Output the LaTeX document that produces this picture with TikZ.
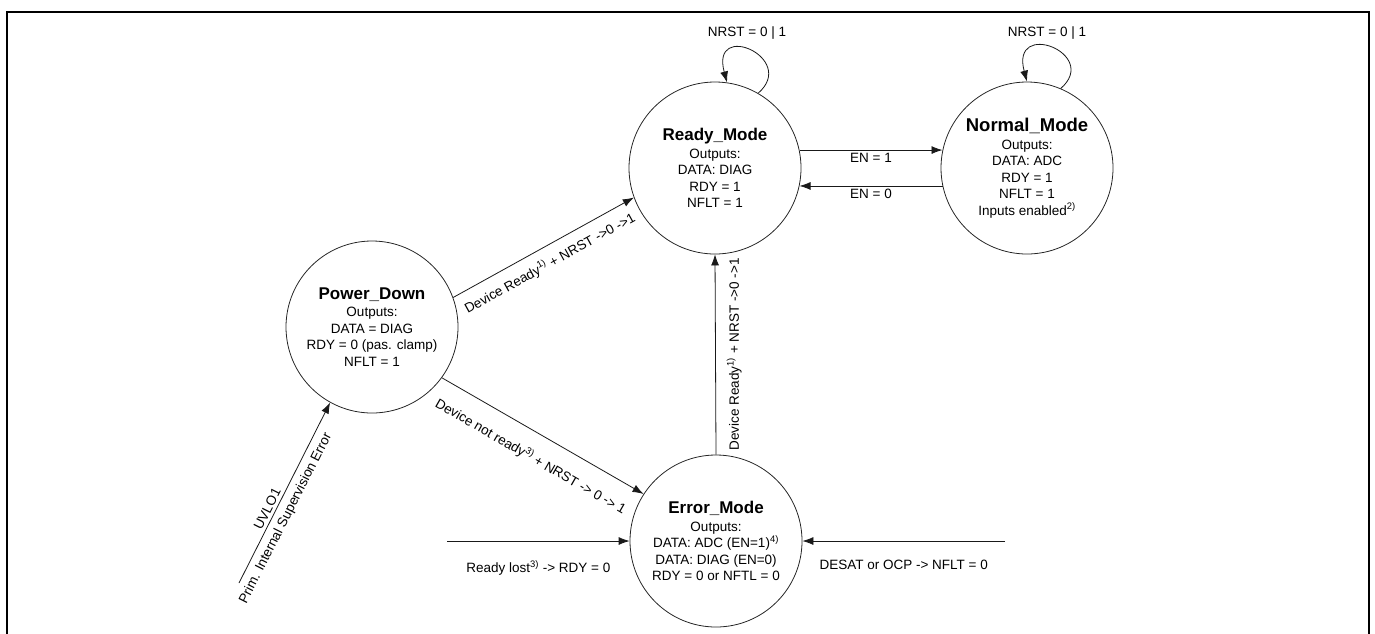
\documentclass[tikz,border=0pt]{standalone}
\usepackage{fontspec}
\setmainfont{Liberation Sans}
\usetikzlibrary{arrows.meta}
\newcommand\bodyfs{\fontsize{13.5}{16.5}\selectfont}
\newcommand\titlefs{\fontsize{17}{19}\selectfont\bfseries}
\newcommand\bigtitlefs{\fontsize{18.5}{20}\selectfont\bfseries}
\begin{document}
\begin{tikzpicture}[x=1pt,y=-1pt,
  state/.style={circle, draw=black!85, line width=0.8pt, minimum size=172pt, inner sep=0pt, align=center, font=\bodyfs},
  arr/.style={draw=black!90, line width=0.8pt, -{Latex[length=11pt,width=8pt]}},
  lbl/.style={font=\bodyfs, inner sep=1pt},
  frame/.style={line width=2.2pt}]
\useasboundingbox (0,0) rectangle (1375,633);
\draw[frame] (7,12) rectangle (1369,660);

\node[state] (ready) at (715,168) {{\titlefs Ready\_Mode}\\[1pt]Outputs:\\DATA: DIAG\\RDY = 1\\NFLT = 1};
\node[state] (normal) at (1027,168) {{\bigtitlefs Normal\_Mode}\\[1pt]Outputs:\\DATA: ADC\\RDY = 1\\NFLT = 1\\Inputs enabled\textsuperscript{2)}};
\node[state] (pd) at (372,327) {{\titlefs Power\_Down}\\[1pt]Outputs:\\DATA = DIAG\\RDY = 0 (pas. clamp)\\NFLT = 1};
\node[state] (err) at (716,541) {{\titlefs Error\_Mode}\\[1pt]Outputs:\\DATA: ADC (EN=1)\textsuperscript{4)}\\DATA: DIAG (EN=0)\\RDY = 0 or NFTL = 0};

% self loops
\draw[arr] (ready.60) .. controls +(40,-35) and +(-17,-63) .. (ready.82);
\node[lbl] (lready) at (747,33) {NRST = 0 | 1};
\draw[arr] (normal.67) .. controls +(40,-35) and +(-17,-63) .. (normal.90);
\node[lbl] (lnormal) at (1047,33) {NRST = 0 | 1};

% EN transitions
\draw[arr] (ready.12) -- (normal.168) node[lbl, midway, below=2pt] {EN = 1};
\draw[arr] (normal.192) -- (ready.-12) node[lbl, midway, below=2pt] {EN = 0};

% Power_Down -> Ready
\draw[arr] (pd.20) -- (ready.200) node[lbl, sloped, pos=0.49, below=8pt] {Device Ready\textsuperscript{1)} + NRST ->0 ->1};
% Power_Down -> Error
\draw[arr] (pd.-36) -- (err.147) node[lbl, sloped, pos=0.5, below=15pt] {Device not ready\textsuperscript{3)} + NRST -> 0 -> 1};
% Error -> Ready
\draw[arr] (err.north) -- (ready.south) coordinate[midway] (mer);
\node[lbl, rotate=90, anchor=north] (ler) at ([xshift=10pt]mer) {Device Ready\textsuperscript{1)} + NRST ->0 ->1};

% UVLO
\coordinate (u0) at (239,583);
\draw[arr] (u0) -- (pd.241)
  node[lbl, sloped, pos=0.39, above=2pt] {UVLO1}
  node[lbl, sloped, pos=0.39, below=5pt] {Prim. Internal Supervision Error};

% Ready lost
\coordinate (rl) at (447,541);
\draw[arr] (rl) -- (err.west) node[lbl, midway, below=18pt] {Ready lost\textsuperscript{3)} -> RDY = 0};
% DESAT
\coordinate (ds) at (1005,541);
\draw[arr] (ds) -- (err.east) node[lbl, midway, below=18pt] {DESAT or OCP -> NFLT = 0};
\end{tikzpicture}
\end{document}
